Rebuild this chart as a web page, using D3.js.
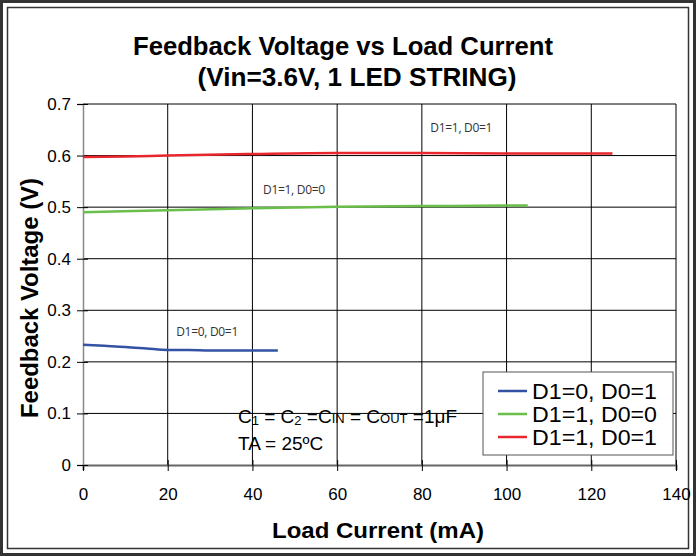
<!DOCTYPE html>
<html>
<head>
<meta charset="utf-8">
<script src="https://cdn.jsdelivr.net/npm/d3@7"></script>
<style>
  body { margin: 0; background: #fff; }
  svg text { font-family: Arial, "Liberation Sans", sans-serif; }
</style>
</head>
<body>
<div id="chart-area"></div>
<script>
// Chart data
let xTicks = [0, 20, 40, 60, 80, 100, 120, 140];
let yTicks = [0, 0.1, 0.2, 0.3, 0.4, 0.5, 0.6, 0.7];

let seriesNames = ["D1=0, D0=1", "D1=1, D0=0", "D1=1, D0=1"];
let seriesColors = ["#3452a4", "#6abf4b", "#e8262c"];

let blueData = [[0, 0.233], [5, 0.231], [10, 0.229], [15, 0.226], [20, 0.223], [25, 0.223], [30, 0.222], [40, 0.222], [46, 0.222]];
let greenData = [[0, 0.49], [20, 0.494], [40, 0.498], [60, 0.501], [80, 0.502], [100, 0.503], [105, 0.503]];
let redData = [[0, 0.597], [10, 0.598], [20, 0.6], [40, 0.603], [60, 0.605], [80, 0.605], [100, 0.604], [125, 0.604]];

let seriesData = [blueData, greenData, redData];
let labelPos = [[22, 0.25], [42.5, 0.526], [82, 0.646]];

let W = 696, H = 556;
let margin = { top: 104, right: 20, bottom: 91, left: 83 };
let width = W - margin.left - margin.right,
  height = H - margin.top - margin.bottom;

let root = d3.select("#chart-area").append("svg")
  .attr("width", W).attr("height", H);

// frame
root.append("rect").attr("x", 1.5).attr("y", 1.5).attr("width", W - 3).attr("height", H - 3)
  .attr("fill", "none").attr("stroke", "#333").attr("stroke-width", 3);
root.append("rect").attr("x", 7.5).attr("y", 7.5).attr("width", W - 15).attr("height", H - 15)
  .attr("fill", "none").attr("stroke", "#333").attr("stroke-width", 1.5);

// title
root.append("text").attr("x", 343).attr("y", 55).attr("text-anchor", "middle")
  .style("font-weight", "bold").style("font-size", "25px")
  .attr("textLength", 420).attr("lengthAdjust", "spacingAndGlyphs")
  .text("Feedback Voltage vs Load Current");
root.append("text").attr("x", 357).attr("y", 86).attr("text-anchor", "middle")
  .style("font-weight", "bold").style("font-size", "25px")
  .attr("textLength", 319).attr("lengthAdjust", "spacingAndGlyphs")
  .text("(Vin=3.6V, 1 LED STRING)");

let svg = root.append("g")
  .attr("transform", "translate(" + margin.left + "," + margin.top + ")");

let x = d3.scaleLinear().domain([0, 140]).range([0, width]);
let y = d3.scaleLinear().domain([0, 0.7]).range([height, 0]);

// grid
svg.selectAll(".vgrid").data(xTicks.slice(1)).enter().append("line")
  .attr("x1", d => x(d)).attr("x2", d => x(d)).attr("y1", 0).attr("y2", height)
  .attr("stroke", "#000").attr("stroke-width", 1);
svg.selectAll(".hgrid").data(yTicks.slice(1)).enter().append("line")
  .attr("x1", 0).attr("x2", width).attr("y1", d => y(d)).attr("y2", d => y(d))
  .attr("stroke", "#000").attr("stroke-width", 1);

// axes
let xAxis = d3.axisBottom(x).tickValues(xTicks).tickFormat(d3.format("d")).tickSize(5).tickPadding(18);
let gx = svg.append("g").attr("transform", "translate(0," + height + ")").call(xAxis);
gx.select(".domain").attr("stroke", "#666").attr("stroke-width", 2);
gx.selectAll(".tick line").attr("y1", -5).attr("y2", 6).attr("stroke", "#000");
gx.selectAll(".tick text").style("font-size", "17px").attr("fill", "#000");

let yAxis = d3.axisLeft(y).tickValues(yTicks).tickFormat(d => d === 0 ? "0" : d3.format(".1f")(d)).tickSize(6).tickPadding(6);
let gy = svg.append("g").call(yAxis);
gy.select(".domain").attr("stroke", "#888").attr("stroke-width", 1.5);
gy.selectAll(".tick line").attr("x1", -6).attr("x2", 5).attr("stroke", "#000");
gy.selectAll(".tick text").style("font-size", "17px").attr("fill", "#000");

// lines
let line = d3.line().x(d => x(d[0])).y(d => y(d[1])).curve(d3.curveMonotoneX);
svg.selectAll(".series").data(seriesData).enter().append("path")
  .attr("d", d => line(d)).attr("fill", "none")
  .attr("stroke", (d, i) => seriesColors[i]).attr("stroke-width", 2.5);

// in-plot labels
svg.selectAll(".slabel").data(seriesNames).enter().append("text")
  .attr("x", (d, i) => x(labelPos[i][0])).attr("y", (d, i) => y(labelPos[i][1]))
  .style("font-family", "'Open Sans', sans-serif").style("font-size", "12px")
  .style("letter-spacing", "-0.3px")
  .attr("fill", "#333").text(d => d);

// conditions
let cond = svg.append("text").attr("x", 155).attr("y", 319).style("font-size", "19px").attr("fill", "#000");
cond.append("tspan").text("C");
cond.append("tspan").text("1").style("font-size", "13px").attr("dy", 2);
cond.append("tspan").text(" = C").attr("dy", -2);
cond.append("tspan").text("2").style("font-size", "13px").attr("dy", 2);
cond.append("tspan").text(" =C").attr("dy", -2);
cond.append("tspan").text("IN").style("font-size", "13px");
cond.append("tspan").text(" = C");
cond.append("tspan").text("OUT").style("font-size", "13px");
cond.append("tspan").text(" =1\u03BCF");
svg.append("text").attr("x", 155).attr("y", 346).style("font-size", "19px").attr("fill", "#000")
  .text("TA = 25\u00BAC");

// axis titles
root.append("text").attr("x", 378).attr("y", 538).attr("text-anchor", "middle")
  .style("font-weight", "bold").style("font-size", "22px")
  .attr("textLength", 212).attr("lengthAdjust", "spacingAndGlyphs")
  .text("Load Current (mA)");
root.append("text").attr("transform", "translate(38,298) rotate(-90)").attr("text-anchor", "middle")
  .style("font-weight", "bold").style("font-size", "23px")
  .attr("textLength", 240).attr("lengthAdjust", "spacingAndGlyphs")
  .text("Feedback Voltage (V)");

// legend
let legend = root.append("g").attr("transform", "translate(483,372)");
legend.append("rect").attr("width", 190).attr("height", 83)
  .attr("fill", "#fff").attr("stroke", "#555").attr("stroke-width", 1);
let items = legend.selectAll(".item").data(seriesNames).enter().append("g")
  .attr("transform", (d, i) => "translate(0," + (19 + i * 23) + ")");
items.append("line").attr("x1", 15).attr("x2", 44).attr("y1", 0).attr("y2", 0)
  .attr("stroke", (d, i) => seriesColors[i]).attr("stroke-width", 2.5);
items.append("text").attr("x", 49).attr("y", 8).style("font-size", "22px").attr("fill", "#000")
  .attr("textLength", 125).attr("lengthAdjust", "spacingAndGlyphs")
  .text(d => d);
</script>
</body>
</html>
